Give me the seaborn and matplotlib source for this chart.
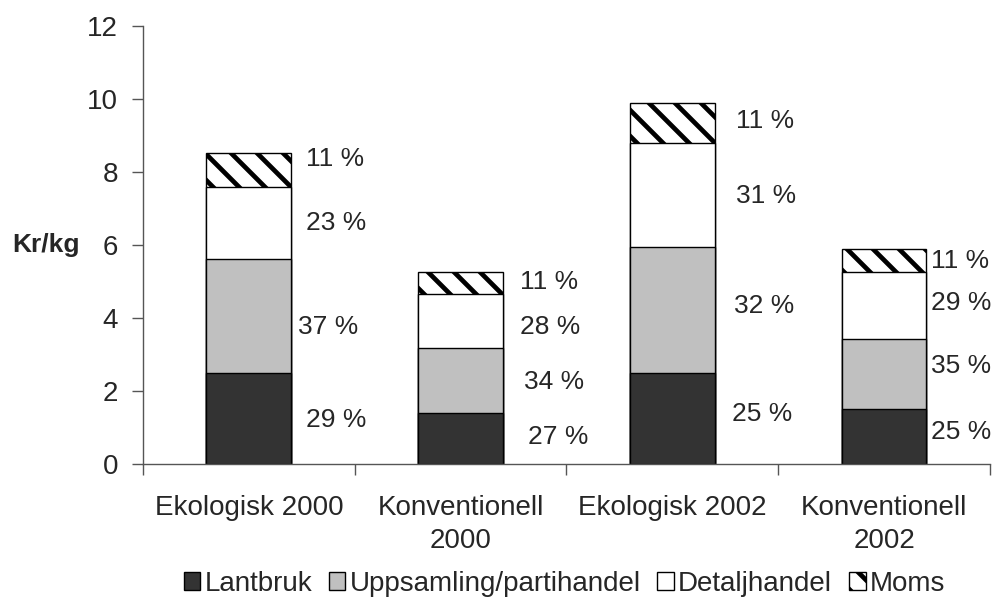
import pandas as pd
import numpy as np
import seaborn as sns
import matplotlib.pyplot as plt
from matplotlib.patches import Patch

# Values (kr/kg per part of the chain)
categories = ["Ekologisk 2000", "Konventionell\n2000", "Ekologisk 2002", "Konventionell\n2002"]
segments = ["Lantbruk", "Uppsamling/partihandel", "Detaljhandel", "Moms"]
lantbruk = [2.50, 1.40, 2.50, 1.50]
uppsamling = [3.13, 1.78, 3.45, 1.92]
detaljhandel = [1.95, 1.48, 2.85, 1.83]
moms = [0.95, 0.60, 1.10, 0.65]

# share labels, bottom to top
pct_labels = [
    ["29 %", "37 %", "23 %", "11 %"],
    ["27 %", "34 %", "28 %", "11 %"],
    ["25 %", "32 %", "31 %", "11 %"],
    ["25 %", "35 %", "29 %", "11 %"],
]
# where the labels sit (x offset from bar centre, y in kr/kg)
pct_dx = [[0.27, 0.23, 0.27, 0.27], [0.32, 0.30, 0.28, 0.28],
          [0.28, 0.29, 0.30, 0.30], [0.22, 0.22, 0.22, 0.22]]
pct_y = [[1.21, 3.75, 6.60, 8.36], [0.74, 2.25, 3.75, 4.99],
         [1.37, 4.33, 7.34, 9.40], [0.88, 2.68, 4.41, 5.56]]

colors = {"Lantbruk": "#333333", "Uppsamling/partihandel": "#c0c0c0",
          "Detaljhandel": "white", "Moms": "white"}

# stack as cumulative heights
vals = np.array([lantbruk, uppsamling, detaljhandel, moms])
cum = vals.cumsum(axis=0)
df = pd.DataFrame({
    "kategori": np.tile(categories, len(segments)),
    "del": np.repeat(segments, len(categories)),
    "kum": cum.ravel(),
})

# hatch spacing follows dpi, so render at a lower dpi and scale point sizes
DPI = 78
S = 100 / DPI

sns.set_style("white")
plt.rcParams["font.family"] = ["Liberation Sans", "DejaVu Sans"]
plt.rcParams["hatch.linewidth"] = 3.4 * S

fig = plt.figure(figsize=(997 / DPI, 608 / DPI), dpi=DPI)
ax = fig.add_axes([0.1434, 0.2368, 0.8496, 0.7204])

# draw tallest (top) segment first, then cover it from below
for seg in segments[::-1]:
    sub = df[df["del"] == seg]
    kw = {"hatch": "\\"} if seg == "Moms" else {}
    sns.barplot(data=sub, x="kategori", y="kum", order=categories,
                color=colors[seg], saturation=1, width=0.4,
                edgecolor="black", linewidth=1.0 * S, ax=ax, **kw)

for i in range(len(categories)):
    for j in range(len(segments)):
        ax.text(i + pct_dx[i][j], pct_y[i][j], pct_labels[i][j],
                fontsize=19 * S, ha="left", va="center")

ax.set_ylim(0, 12)
ax.set_xlim(-0.5, 3.5)
ax.set_yticks(range(0, 13, 2))
ax.tick_params(axis="y", labelsize=20 * S, length=8 * S, width=1 * S,
               color="#555555", direction="out", left=True, pad=10 * S)
ax.tick_params(axis="x", which="major", labelsize=20 * S, length=0, pad=22 * S)
for lbl in ax.get_xticklabels():
    lbl.set_linespacing(1.35)
ax.set_xticks(np.arange(-0.5, 4, 1), minor=True)
ax.tick_params(axis="x", which="minor", length=8 * S, width=1 * S,
               color="#555555", direction="out", bottom=True)
ax.set_xlabel("")
ax.set_ylabel("Kr/kg", rotation=0, fontsize=19 * S, fontweight="bold",
              ha="center", va="center")
ax.yaxis.set_label_coords(-0.1145, 0.5)

sns.despine(ax=ax)
for side in ["left", "bottom"]:
    ax.spines[side].set_color("#555555")
    ax.spines[side].set_linewidth(1 * S)

handles = [Patch(facecolor=colors[s], edgecolor="black", linewidth=1 * S,
                 hatch="\\" if s == "Moms" else None) for s in segments]
fig.legend(handles, segments, loc="center", bbox_to_anchor=(0.566, 0.040),
           ncol=4, frameon=False, fontsize=20 * S, handlelength=0.6,
           handleheight=0.6, handletextpad=0.15, columnspacing=0.6)

fig.savefig("out.png", dpi=DPI)
